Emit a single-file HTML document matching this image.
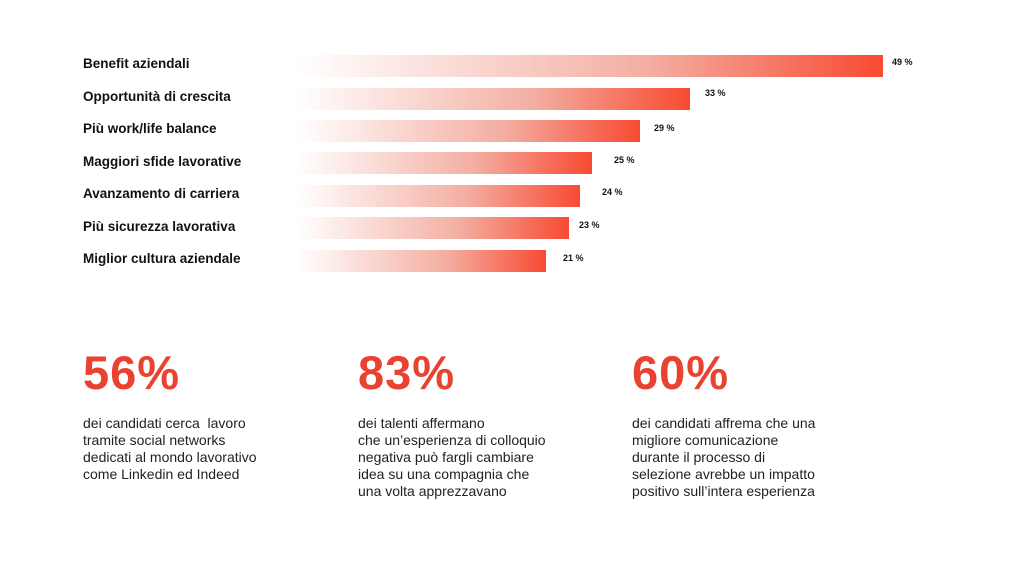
<!DOCTYPE html>
<html><head><meta charset="utf-8"><style>
body{margin:0;width:1024px;height:576px;background:#fff;font-family:"Liberation Sans",sans-serif;position:relative;overflow:hidden}
.l{position:absolute;left:83px;font-size:13.5px;font-weight:bold;color:#111}
.b{position:absolute;left:297px;height:22px;background:linear-gradient(to right,rgba(255,255,255,0),rgba(236,120,100,.6) 60%,#f84a32)}
.v{position:absolute;font-size:9px;font-weight:bold;color:#111}
.n{position:absolute;top:345px;font-size:47px;font-weight:bold;color:#ea4230;letter-spacing:1px}
.t{position:absolute;top:415px;font-size:14px;line-height:17px;color:#222}
</style></head><body>
<div class="l" style="top:56px">Benefit aziendali</div>
<div class="l" style="top:89px">Opportunità di crescita</div>
<div class="l" style="top:121px">Più work/life balance</div>
<div class="l" style="top:154px">Maggiori sfide lavorative</div>
<div class="l" style="top:186px">Avanzamento di carriera</div>
<div class="l" style="top:219px">Più sicurezza lavorativa</div>
<div class="l" style="top:251px">Miglior cultura aziendale</div>
<div class="b" style="top:55px;width:586px"></div>
<div class="b" style="top:88px;width:393px"></div>
<div class="b" style="top:120px;width:343px"></div>
<div class="b" style="top:152px;width:295px"></div>
<div class="b" style="top:185px;width:283px"></div>
<div class="b" style="top:217px;width:272px"></div>
<div class="b" style="top:250px;width:249px"></div>
<div class="v" style="top:57px;left:892px">49 %</div>
<div class="v" style="top:88px;left:705px">33 %</div>
<div class="v" style="top:123px;left:654px">29 %</div>
<div class="v" style="top:155px;left:614px">25 %</div>
<div class="v" style="top:187px;left:602px">24 %</div>
<div class="v" style="top:220px;left:579px">23 %</div>
<div class="v" style="top:253px;left:563px">21 %</div>
<div class="n" style="left:83px">56%</div>
<div class="n" style="left:358px">83%</div>
<div class="n" style="left:632px">60%</div>
<div class="t" style="left:83px">dei candidati cerca&nbsp; lavoro<br>tramite social networks<br>dedicati al mondo lavorativo<br>come Linkedin ed Indeed</div>
<div class="t" style="left:358px">dei talenti affermano<br>che un’esperienza di colloquio<br>negativa può fargli cambiare<br>idea su una compagnia che<br>una volta apprezzavano</div>
<div class="t" style="left:632px">dei candidati affrema che una<br>migliore comunicazione<br>durante il processo di<br>selezione avrebbe un impatto<br>positivo sull’intera esperienza</div>
</body></html>
